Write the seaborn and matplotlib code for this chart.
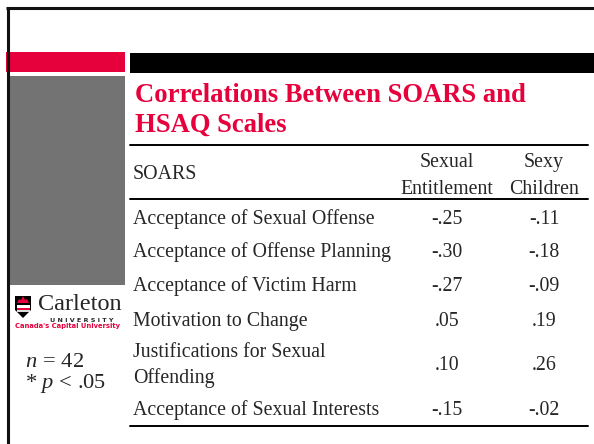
"""
Slide: correlations between SOARS and HSAQ scales (table slide)
"""
import matplotlib
matplotlib.use('Agg')
import matplotlib.pyplot as plt
from matplotlib.patches import Rectangle, Polygon
import seaborn as sns

# table data
title = 'Correlations Between SOARS and\nHSAQ Scales'
row_header = 'SOARS'
col_headers = ['Sexual\nEntitlement', 'Sexy\nChildren']
rows = ['Acceptance of Sexual Offense',
        'Acceptance of Offense Planning',
        'Acceptance of Victim Harm',
        'Motivation to Change',
        'Justifications for Sexual\nOffending',
        'Acceptance of Sexual Interests']
sexual_entitlement = ['-.25', '-.30', '-.27', '.05', '.10', '-.15']
sexy_children = ['-.11', '-.18', '-.09', '.19', '.26', '-.02']
notes = ['$n$ = 42', '* $p$ < .05']

RED = '#e6003c'
GRAY = '#737373'

sns.set_theme(style='white')
plt.rcParams['font.family'] = ['Liberation Serif', 'DejaVu Serif']
plt.rcParams['mathtext.fontset'] = 'custom'
plt.rcParams['mathtext.it'] = 'Liberation Serif:italic'
plt.rcParams['mathtext.rm'] = 'Liberation Serif'

fig = plt.figure(figsize=(5.94, 4.44), dpi=100)
ax = fig.add_axes([0, 0, 1, 1])
ax.set_xlim(0, 594)
ax.set_ylim(444, 0)
ax.axis('off')

# slide frame and decorations
ax.plot([6, 594], [8, 8], color='#111111', lw=2.2, solid_capstyle='butt')
ax.plot([7.5, 7.5], [8, 444], color='#111111', lw=2.2, solid_capstyle='butt')
ax.add_patch(Rectangle((6, 52), 119, 20, color=RED, lw=0))
ax.add_patch(Rectangle((130, 53), 464, 20, color='black', lw=0))
ax.add_patch(Rectangle((9, 76), 116, 209, color=GRAY, lw=0))

# title
ax.text(135, 102, title.split('\n')[0], color=RED, fontsize=19.2,
        fontweight='bold', va='baseline')
ax.text(135, 132, title.split('\n')[1], color=RED, fontsize=19.2,
        fontweight='bold', va='baseline')

# table rules
for y in [145, 199, 426]:
    ax.plot([130, 588], [y, y], color='black', lw=1.4)

fs = 14.3
col_x = [447, 544]
ax.text(133, 179, row_header, fontsize=fs, va='baseline')
for x, h in zip(col_x, col_headers):
    top, bottom = h.split('\n')
    ax.text(x, 167, top, fontsize=fs, ha='center', va='baseline')
    ax.text(x, 194, bottom, fontsize=fs, ha='center', va='baseline')

row_base = [224, 257, 291, 326, 370, 415]
for lab, yb, v1, v2 in zip(rows, row_base, sexual_entitlement, sexy_children):
    parts = lab.split('\n')
    if len(parts) == 1:
        ax.text(133, yb, lab, fontsize=fs, va='baseline')
    else:
        ax.text(133, yb - 13, parts[0], fontsize=fs, va='baseline')
        ax.text(133, yb + 13, parts[1], fontsize=fs, va='baseline')
    ax.text(col_x[0], yb, v1, fontsize=fs, ha='center', va='baseline')
    ax.text(col_x[1], yb, v2, fontsize=fs, ha='center', va='baseline')

# university logo
ax.add_patch(Polygon([(15, 296), (31, 296), (31, 310), (23, 318), (15, 310)],
                     closed=True, color='black', lw=0))
ax.add_patch(Polygon([(17, 303), (19, 299), (21, 300), (23, 296), (25, 300),
                      (27, 299), (29, 303)], closed=True, color=RED, lw=0))
ax.add_patch(Rectangle((16.5, 304.5), 13, 3, color='white', lw=0))
ax.add_patch(Rectangle((16.5, 307.5), 13, 2.5, color=RED, lw=0))
ax.add_patch(Rectangle((16.5, 310), 13, 2, color='#dddddd', lw=0))
ax.text(38, 310, 'Carleton', fontsize=17.5, va='baseline')
ax.text(82, 321.5, 'U N I V E R S I T Y', fontsize=4.6, ha='center',
        va='baseline', family='DejaVu Sans', fontweight='bold')
ax.text(15, 328, "Canada's Capital University", fontsize=4.9, va='baseline',
        color=RED, family='DejaVu Sans', fontweight='bold')

# notes
ax.text(25, 367, notes[0].replace(' = ', r'$\,=\,$'), fontsize=16.2, va='baseline')
ax.text(25, 388, notes[1], fontsize=16.2, va='baseline')

fig.savefig('out.png', dpi=100)
